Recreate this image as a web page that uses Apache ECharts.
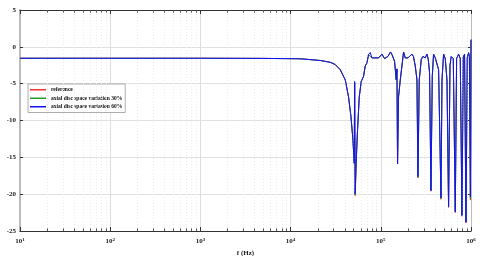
<!DOCTYPE html>
<html><head><meta charset="utf-8">
<script src="https://cdn.jsdelivr.net/npm/echarts@6/dist/echarts.min.js"></script>
<style>html,body{margin:0;padding:0;background:#fff}#c{width:480px;height:256px}</style>
</head><body><div id="c"></div>
<script>
var seriesNames = ['reference', 'axial disc space variation 30%', 'axial disc space variation 60%'];
var freqHz = [10,100,1000,5000,12770,21300,27500,31200,35500,40400,43900,46700,49100,50700,51300,52000,53300,55200,57700,60700,64400,67200,70200,73100,76400,79800,84600,94400,103000,110000,120000,128000,133000,142000,148300,151000,153400,157300,164400,171500,178800,186700,200000,221400,230000,240900,251600,258100,266800,281000,293300,311000,325000,335900,347300,359800,372200,384700,401700,419600,437400,464800,476800,496900,518600,541600,564100,584600,604100,636200,669700,692200,728100,760500,794300,820600,848600,879600,909400,940400,960000,985000,1000000];
var dbReference = [-1.55,-1.55,-1.55,-1.57,-1.62,-1.85,-2.1,-2.4,-3.1,-4.5,-6.8,-9.5,-12.6,-15.8,-4.9,-20.2,-15.8,-11.3,-6.8,-4.7,-4.0,-2.6,-2.2,-1.05,-0.8,-1.5,-1.5,-1.5,-1.0,-1.6,-1.3,-0.7,-1.05,-1.95,-4.4,-3.0,-15.9,-6.8,-4.5,-2.6,-0.7,-1.5,-1.5,-1.0,-1.3,-2.6,-4.3,-17.8,-4.5,-1.7,-1.3,-1.5,-1.0,-1.7,-3.5,-19.6,-4.0,-1.0,-1.5,-1.6,-3.1,-20.7,-4.5,-1.0,-1.6,-4.5,-21.8,-2.5,-1.3,-1.6,-22.5,-1.6,-1.0,-1.6,-23.0,-1.4,-1.0,-23.9,-1.5,-0.8,-1.3,-20.8,0.9];
var dbVar30 = [-1.55,-1.55,-1.55,-1.57,-1.62,-1.85,-2.1,-2.4,-3.1,-4.5,-6.8,-9.5,-12.6,-15.8,-4.8,-20.1,-15.8,-11.3,-6.8,-4.7,-4.0,-2.6,-2.2,-1.05,-0.78,-1.5,-1.5,-1.5,-1.0,-1.6,-1.3,-0.7,-1.05,-1.95,-4.5,-3.0,-15.9,-6.8,-4.5,-2.6,-0.7,-1.5,-1.5,-1.0,-1.3,-2.6,-4.4,-17.7,-4.5,-1.7,-1.3,-1.5,-1.0,-1.7,-3.5,-19.5,-4.0,-1.0,-1.5,-1.6,-3.1,-20.6,-4.5,-1.0,-1.6,-4.5,-21.7,-2.5,-1.3,-1.6,-22.4,-1.6,-1.0,-1.6,-22.9,-1.4,-1.0,-23.8,-1.5,-0.8,-1.3,-20.6,0.95];
var dbVar60 = [-1.55,-1.55,-1.55,-1.57,-1.62,-1.85,-2.1,-2.4,-3.1,-4.5,-6.8,-9.5,-12.6,-15.8,-4.7,-20.0,-15.8,-11.3,-6.8,-4.7,-4.0,-2.6,-2.2,-1.05,-0.77,-1.5,-1.5,-1.5,-1.0,-1.6,-1.3,-0.7,-1.05,-1.95,-4.5,-3.0,-15.9,-6.8,-4.5,-2.6,-0.7,-1.5,-1.5,-1.0,-1.3,-2.6,-4.5,-17.6,-4.5,-1.7,-1.3,-1.5,-1.0,-1.7,-3.5,-19.5,-4.0,-1.0,-1.5,-1.6,-3.1,-20.5,-4.5,-1.0,-1.6,-4.5,-21.7,-2.5,-1.3,-1.6,-22.4,-1.6,-1.0,-1.6,-22.9,-1.4,-1.0,-23.8,-1.5,-0.8,-1.3,-20.4,1.0];
var yTicks = [-25,-20,-15,-10,-5,0,5];
var decades = [10,100,1000,10000,100000,1000000];
var seriesColors = ['#ff3030','#20a020','#1010ff'];

var minorF = [];
for (var k = 0; k < decades.length - 1; k++) {
  for (var m = 2; m <= 9; m++) minorF.push(decades[k] * m);
}
var gridMarks = minorF.map(function (f) { return { xAxis: f }; });
var tickMarks = [];
minorF.forEach(function (f) {
  tickMarks.push([{ coord: [f, -25] }, { coord: [f, -24.65] }]);
  tickMarks.push([{ coord: [f, 5] }, { coord: [f, 4.65] }]);
});

var font = 'Liberation Serif';
function mk(arr) { return freqHz.map(function (f, i) { return [f, arr[i]]; }); }
var dbs = [dbReference, dbVar30, dbVar60];

var chart = echarts.init(document.getElementById('c'), null, { renderer: 'canvas' });
var series = seriesNames.map(function (n, i) {
  return {
    name: n, type: 'line', xAxisIndex: 0, yAxisIndex: 0,
    data: mk(dbs[i]), showSymbol: false, symbol: 'none',
    lineStyle: { width: 1, color: seriesColors[i] }, itemStyle: { color: seriesColors[i] },
    animation: false, z: 3 + i
  };
});
series.push({
  type: 'line', data: [], silent: true, animation: false, z: 1,
  markLine: { silent: true, symbol: 'none', label: { show: false }, animation: false,
    lineStyle: { color: '#ececec', type: [1, 2], width: 1 }, data: gridMarks }
});
series.push({
  type: 'line', data: [], silent: true, animation: false, z: 2,
  markLine: { silent: true, symbol: 'none', label: { show: false }, animation: false,
    lineStyle: { color: '#555', type: 'solid', width: 1 }, data: tickMarks }
});

var xLab = {
  formatter: function (v) { return '{b|10}{e|' + Math.round(Math.log10(v)) + '}'; },
  rich: {
    b: { fontFamily: font, fontWeight: 'bold', fontSize: 7, color: '#222' },
    e: { fontFamily: font, fontWeight: 'bold', fontSize: 5, color: '#222', verticalAlign: 'top', padding: [0, 0, 4, 0] }
  },
  margin: 6
};
var yLab = { fontFamily: font, fontWeight: 'bold', fontSize: 7, color: '#222', margin: 4 };

chart.setOption({
  animation: false,
  backgroundColor: '#fff',
  grid: { left: 20, right: 9, top: 10, bottom: 25, containLabel: false, outerBoundsMode: 'none' },
  legend: {
    data: seriesNames, orient: 'vertical', left: 28, top: 84,
    icon: 'rect', itemWidth: 16, itemHeight: 1.5, itemGap: 1,
    textStyle: { fontFamily: font, fontWeight: 'bold', fontSize: 5.5, color: '#111', lineHeight: 7.5 },
    borderColor: '#999', borderWidth: 0.8, padding: [2, 3, 2, 2], backgroundColor: '#fff'
  },
  xAxis: [{
    type: 'log', logBase: 10, min: 10, max: 1000000, position: 'bottom',
    name: 'f (Hz)', nameLocation: 'middle', nameGap: 15,
    nameTextStyle: { fontFamily: font, fontWeight: 'bold', fontSize: 7, color: '#222' },
    axisLine: { onZero: false, lineStyle: { color: '#333', width: 1 } },
    axisTick: { inside: true, length: 4, lineStyle: { color: '#333' } },
    splitLine: { show: true, lineStyle: { color: '#dedede', width: 1 } },
    axisLabel: xLab
  }, {
    type: 'log', logBase: 10, min: 10, max: 1000000, position: 'top',
    axisLine: { onZero: false, lineStyle: { color: '#333', width: 1 } },
    axisTick: { inside: true, length: 4, lineStyle: { color: '#333' } },
    splitLine: { show: false }, axisLabel: { show: false }
  }],
  yAxis: [{
    type: 'value', min: -25, max: 5, interval: 5, position: 'left',
    name: 'TF (dB)', nameLocation: 'middle', nameGap: 12, nameRotate: 90,
    nameTextStyle: { fontFamily: font, fontWeight: 'bold', fontSize: 7, color: '#222' },
    axisLine: { onZero: false, lineStyle: { color: '#bbb', width: 2 } },
    axisTick: { show: true, inside: true, length: 3, lineStyle: { color: '#333' } },
    splitLine: { show: true, lineStyle: { color: '#e0e0e0', width: 1 } },
    axisLabel: Object.assign({ formatter: function (v) { return yTicks.indexOf(v) >= 0 ? String(v) : ''; } }, yLab)
  }, {
    type: 'value', min: -25, max: 5, interval: 5, position: 'right',
    axisLine: { onZero: false, lineStyle: { color: '#bbb', width: 1 } },
    axisTick: { show: true, inside: true, length: 3, lineStyle: { color: '#333' } },
    splitLine: { show: false }, axisLabel: { show: false }
  }],
  series: series
});
</script></body></html>
